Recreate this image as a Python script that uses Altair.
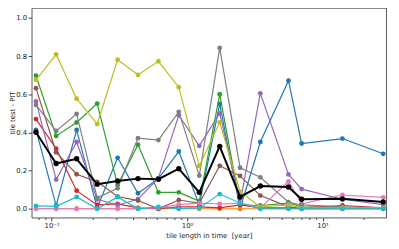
import altair as alt
import pandas as pd

# tile length in time [year]
x_years = [0.0767, 0.108, 0.153, 0.217, 0.307, 0.434, 0.614, 0.868,
           1.23, 1.74, 2.46, 3.47, 5.6, 7.0, 14.0, 28.0]

s_blue   = [0.413, 0.017, 0.413, 0.005, 0.267, 0.081, 0.158, 0.300, 0.020, 0.550, 0.000, 0.350, 0.671, 0.342, 0.368, 0.288]
s_orange = [0.000, 0.000, 0.000, 0.000, 0.000, 0.000, 0.000, 0.000, 0.000, 0.000, 0.000, 0.000, 0.000, 0.000, 0.000, 0.000]
s_green  = [0.697, 0.382, 0.452, 0.551, 0.124, 0.336, 0.086, 0.086, 0.040, 0.600, 0.020, 0.017, 0.030, 0.010, 0.005, 0.005]
s_red    = [0.470, 0.315, 0.095, 0.020, 0.026, 0.005, 0.000, 0.010, 0.010, 0.005, 0.020, 0.005, 0.005, 0.005, 0.017, 0.005]
s_purple = [0.563, 0.153, 0.350, 0.050, 0.020, 0.050, 0.160, 0.490, 0.330, 0.500, 0.030, 0.605, 0.180, 0.103, 0.050, 0.022]
s_brown  = [0.632, 0.296, 0.181, 0.141, 0.064, 0.043, 0.000, 0.046, 0.030, 0.225, 0.172, 0.069, 0.010, 0.000, 0.000, 0.000]
s_pink   = [0.000, 0.000, 0.000, 0.000, 0.000, 0.000, 0.005, 0.022, 0.030, 0.025, 0.030, 0.005, 0.143, 0.026, 0.072, 0.060]
s_gray   = [0.544, 0.408, 0.497, 0.057, 0.107, 0.370, 0.360, 0.508, 0.174, 0.843, 0.215, 0.165, 0.035, 0.020, 0.010, 0.005]
s_olive  = [0.676, 0.809, 0.577, 0.444, 0.781, 0.702, 0.773, 0.637, 0.224, 0.453, 0.090, 0.010, 0.020, 0.005, 0.005, 0.005]
s_cyan   = [0.015, 0.013, 0.062, 0.000, 0.062, 0.000, 0.010, 0.000, 0.004, 0.077, 0.030, 0.000, 0.000, 0.000, 0.000, 0.000]
s_mean   = [0.401, 0.237, 0.262, 0.129, 0.146, 0.158, 0.155, 0.210, 0.086, 0.327, 0.062, 0.119, 0.114, 0.050, 0.052, 0.036]

series = [
    (s_blue, "#1f77b4"), (s_orange, "#ff7f0e"), (s_green, "#2ca02c"),
    (s_red, "#d62728"), (s_purple, "#9467bd"), (s_brown, "#8c564b"),
    (s_pink, "#e377c2"), (s_gray, "#7f7f7f"), (s_olive, "#bcbd22"),
    (s_cyan, "#17becf"),
]

major_ticks = [0.1, 1, 10]
minor_ticks = [0.08, 0.09, 0.2, 0.3, 0.4, 0.5, 0.6, 0.7, 0.8, 0.9,
               2, 3, 4, 5, 6, 7, 8, 9, 20]
y_ticks = [0.0, 0.2, 0.4, 0.6, 0.8, 1.0]

FONT = "DejaVu Sans"

x_enc = alt.X(
    "x:Q",
    scale=alt.Scale(type="log", domain=[0.07122, 29.4], nice=False),
    axis=alt.Axis(
        values=major_ticks + minor_ticks,
        labelExpr="datum.value == 0.1 ? '10⁻¹' : datum.value == 1 ? '10⁰' : datum.value == 10 ? '10¹' : ''",
        tickSize={"condition": {"test": "indexof([0.1, 1, 10], datum.value) >= 0", "value": 3.5}, "value": 2},
        labelOverlap=False, labelFlush=False, labelPadding=1,
        title="tile length in time \u00a0[year]", titlePadding=3,
        domain=False, grid=False,
    ),
)
y_enc = alt.Y(
    "y:Q",
    scale=alt.Scale(domain=[-0.046, 1.053], nice=False, zero=False),
    axis=alt.Axis(
        values=y_ticks, format=".1f", tickSize=3.5, labelPadding=1.5,
        title="tile test - PIT", titlePadding=0, domain=False, grid=False,
    ),
)

layers = []
for vals, col in series:
    df = pd.DataFrame({"x": x_years, "y": vals})
    base = alt.Chart(df).encode(x=x_enc, y=y_enc)
    layers.append(base.mark_line(color=col, strokeWidth=1.2))
    layers.append(base.mark_circle(color=col, size=24, opacity=1))

dfm = pd.DataFrame({"x": x_years, "y": s_mean})
basem = alt.Chart(dfm).encode(x=x_enc, y=y_enc)
layers.append(basem.mark_line(color="black", strokeWidth=2))
layers.append(basem.mark_circle(color="black", size=30, opacity=1))

chart = alt.layer(*layers).properties(
    width=360, height=213,
    autosize=alt.AutoSizeParams(type="none"),
    padding={"left": 24, "top": -2, "right": 5, "bottom": 23},
).configure_view(
    stroke="#444", strokeWidth=0.9
).configure_axis(
    labelFont=FONT, titleFont=FONT, labelFontSize=7, titleFontSize=7,
    labelColor="#222", titleColor="#222", tickColor="#444", titleFontWeight="normal",
)

chart.save("out.html", embed_options={"renderer": "svg", "actions": False})
